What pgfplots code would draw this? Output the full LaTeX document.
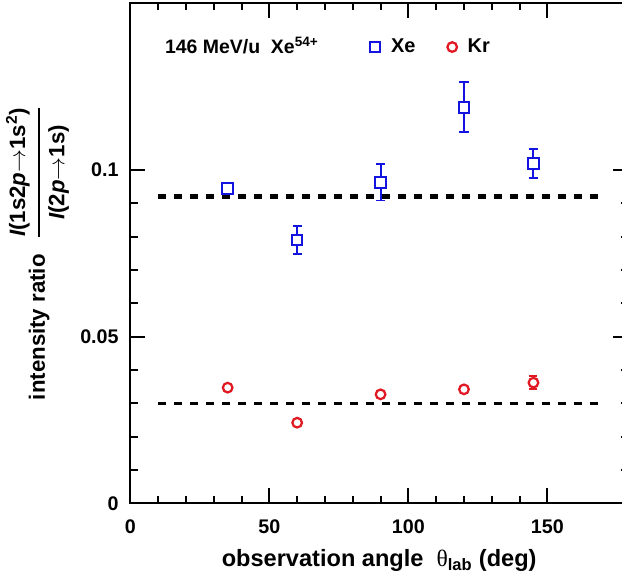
\documentclass[border=0pt]{standalone}
\usepackage{fontspec}
\setmainfont{Liberation Sans}
\newfontfamily\serifgr{Liberation Serif}
\usepackage{amsmath}
\usepackage{pgfplots}
\pgfplotsset{compat=1.18}
\usetikzlibrary{calc}
\definecolor{xeblue}{RGB}{20,20,225}
\definecolor{krred}{RGB}{225,25,35}

\pgfplotstableread{
x y e
35 0.0944 0.0010
60 0.0790 0.0043
90 0.0962 0.0054
120 0.1187 0.0075
145 0.1018 0.0043
}\xedata
\pgfplotstableread{
x y e
35 0.0347 0.0006
60 0.0242 0.0006
90 0.0327 0.0006
120 0.0342 0.0006
145 0.0362 0.0020
}\krdata

\begin{document}
\begin{tikzpicture}
\begin{axis}[
  scale only axis, width=373.7pt, height=375.8pt,
  xmin=0, xmax=179, ymin=0, ymax=0.15,
  axis line style={line width=1.5pt},
  every tick/.style={black, line width=1.5pt},
  major tick length=11.25pt, minor tick length=5.6pt,
  tick align=inside, tick pos=both,
  xticklabel pos=lower, yticklabel pos=left,
  xtick={0,50,100,150}, xticklabels={0,50,100,150},
  minor x tick num=4,
  ytick={0,0.05,0.1}, yticklabels={0,0.05,0.1},
  minor y tick num=4,
  /pgf/number format/assume math mode=true,
  tick label style={font=\fontsize{14.8}{17}\selectfont\bfseries, inner sep=0pt},
  xticklabel style={anchor=base, yshift=-22.5pt},
  yticklabel style={anchor=east, xshift=-8.6pt},
  xlabel={observation angle \ {\serifgr\mdseries θ}\textsubscript{lab} (deg)},
  xlabel style={at={(rel axis cs:0.5,0)}, anchor=base, yshift=-47pt, inner sep=0pt, font=\fontsize{17.7}{20}\selectfont\bfseries},
  ylabel={intensity ratio\hspace{12pt}$\genfrac{}{}{2pt}{0}{\hbox{\itshape I\upshape(1s2\itshape p\upshape$\rightarrow$1s\textsuperscript{2})}}{\hbox{\itshape I\upshape(2\itshape p\upshape$\rightarrow$1s)}}$},
  ylabel style={at={(rel axis cs:-0.1866,0.5)}, anchor=center, rotate=0, inner sep=0pt, font=\fontsize{16.7}{19}\selectfont\bfseries},
  legend style={at={(axis cs:86.0,0.1368)}, anchor=west, draw=none, fill=none, inner sep=0pt,
    font=\fontsize{15}{17}\selectfont\bfseries,
    legend columns=2, column sep=0pt,
    nodes={inner sep=0pt},
    /tikz/every odd column/.append style={column sep=8pt},
    /tikz/every even column/.append style={column sep=24pt}},
  legend image code/.code={\draw[#1,only marks] plot coordinates {(0pt,0pt)};},
]
\coordinate (bl) at (rel axis cs:0,0);
\coordinate (tr) at (rel axis cs:1,1);
\addplot[black, line width=3.25pt, dash pattern=on 6.25pt off 5.75pt, forget plot] coordinates {(10,0.0920) (170,0.0920)};
\addplot[black, line width=2pt, dash pattern=on 6.25pt off 5.75pt, forget plot] coordinates {(10,0.030) (170,0.030)};
% error bars first
\addplot[xeblue, draw=none, mark=none, forget plot,
  error bars/.cd, y dir=both, y explicit,
  error bar style={line width=1.5pt, xeblue, solid},
  error mark options={rotate=90, mark size=3.5pt, line width=1.5pt, xeblue}]
  table[x=x, y=y, y error=e] {\xedata};
\addplot[krred, draw=none, mark=none, forget plot,
  error bars/.cd, y dir=both, y explicit,
  error bar style={line width=1.5pt, krred, solid},
  error mark options={rotate=90, mark size=3pt, line width=1.5pt, krred}]
  table[x=x, y=y, y error=e] {\krdata};
% markers on top
\addplot[xeblue, only marks, mark=square*, mark size=4pt, line width=1.5pt, mark options={draw=xeblue, fill=white}]
  table[x=x, y=y] {\xedata};
\addlegendentry{Xe}
\addplot[krred, only marks, mark=*, mark size=3.6pt, line width=1.7pt, mark options={draw=krred, fill=white}]
  table[x=x, y=y] {\krdata};
\addlegendentry{Kr}
\node[anchor=base west, inner sep=0pt, font=\fontsize{14.6}{17}\selectfont\bfseries] at (axis cs:12.4,0.1350) {146 MeV/u \ Xe\textsuperscript{54+}};
\end{axis}
\pgfresetboundingbox
\path[use as bounding box] ($(bl)+(-97.9pt,-56.25pt)$) rectangle ($(tr)+(-4.5pt,2.25pt)$);
\end{tikzpicture}
\end{document}
